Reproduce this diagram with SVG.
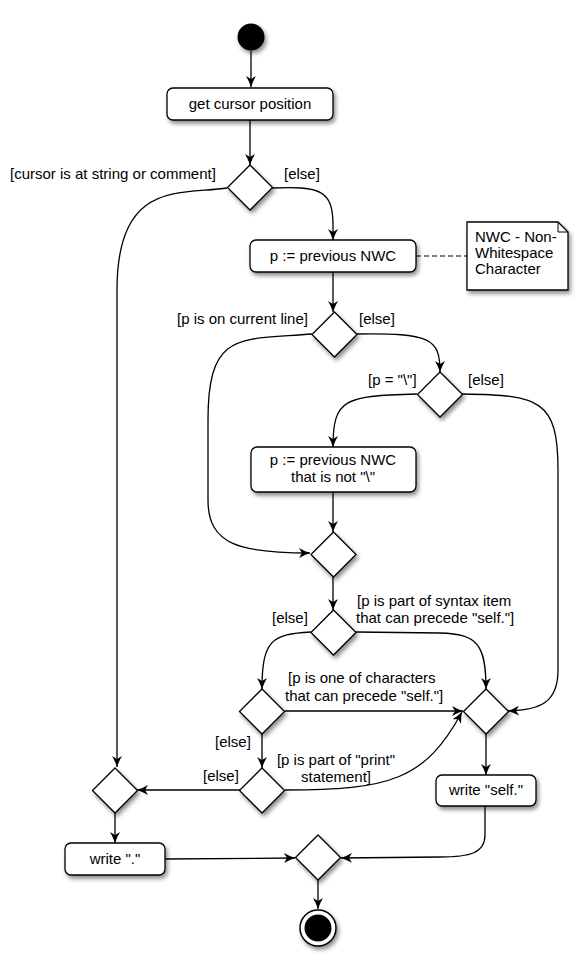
<svg xmlns="http://www.w3.org/2000/svg" width="582" height="976" viewBox="0 0 582 976">
  <defs>
    <filter id="shadow" x="-30%" y="-30%" width="160%" height="160%">
      <feDropShadow dx="2" dy="3" stdDeviation="2" flood-color="#000" flood-opacity="0.45"/>
    </filter>
    <marker id="arrow" markerUnits="userSpaceOnUse" markerWidth="12" markerHeight="10" refX="11" refY="5" orient="auto">
      <path d="M0,0 Q5,3 11,5 Q5,7 0,10 L3,5 Z" fill="#000"/>
    </marker>
  </defs>
  <style>
    text { font-family: "Liberation Sans", Arial, sans-serif; font-size: 15px; fill: #000; }
    .c { text-anchor: middle; }
    .node { fill: #fff; stroke: #000; stroke-width: 1.3; filter: url(#shadow); }
    .edge { fill: none; stroke: #000; stroke-width: 1.3; marker-end: url(#arrow); }
    .dash { fill: none; stroke: #000; stroke-width: 1.2; stroke-dasharray: 5 3; }
  </style>
  <rect width="582" height="976" fill="#fff"/>

  <g id="connectors">
    <path class="edge" d="M251,51 L251,87"/>
    <path class="edge" d="M250,120 L250,165"/>
    <path class="edge" d="M227,188 C180,195 117,180 117,290 L117,767"/>
    <path class="edge" d="M272,188 C320,186 333,190 333,225 L333,240"/>
    <path class="dash" d="M416,256 L467,256"/>
    <path class="edge" d="M333,272 L333,312"/>
    <path class="edge" d="M312,334 C240,340 208,330 208,420 L208,500 C208,545 240,553 310,553"/>
    <path class="edge" d="M357,334 C430,333 440,338 440,372"/>
    <path class="edge" d="M417,394 C345,396 333,398 333,447"/>
    <path class="edge" d="M462,394 C540,395 558,400 558,470 L558,670 C558,703 540,710 508,711"/>
    <path class="edge" d="M333,492 L333,532"/>
    <path class="edge" d="M333,577 L333,610"/>
    <path class="edge" d="M356,632 L440,633 C478,634 486,645 486,689"/>
    <path class="edge" d="M311,632 C272,634 262,640 262,689"/>
    <path class="edge" d="M285,711 L463,711"/>
    <path class="edge" d="M262,733 L262,768"/>
    <path class="edge" d="M240,790 L137,790"/>
    <path class="edge" d="M285,790 C390,790 425,780 462,712"/>
    <path class="edge" d="M486,733 L486,775"/>
    <path class="edge" d="M485,806 L485,835 C485,853 470,857 440,857 L341,858"/>
    <path class="edge" d="M115,812 L115,843"/>
    <path class="edge" d="M165,859 L295,858"/>
    <path class="edge" d="M318,880 L318,909"/>
  </g>

  <g id="start"><circle cx="251" cy="37" r="13.5" fill="#000" filter="url(#shadow)"/></g>

  <g id="get-cursor">
    <rect class="node" x="167" y="88" width="166" height="32" rx="6"/>
    <text class="c" x="250" y="109">get cursor position</text>
  </g>

  <g id="d-string">
    <path class="node" d="M250,165 L272.5,187.5 L250,210 L227.5,187.5 Z"/>
    <text x="10" y="179">[cursor is at string or comment]</text>
    <text x="284" y="179">[else]</text>
  </g>

  <g id="prev-nwc">
    <rect class="node" x="250" y="240" width="166" height="32" rx="6"/>
    <text class="c" x="333" y="261">p := previous NWC</text>
  </g>

  <g id="note">
    <path class="node" d="M467,222 L558,222 L568,232 L568,290 L467,290 Z"/>
    <path d="M558,222 L558,232 L568,232" fill="none" stroke="#000" stroke-width="1"/>
    <text x="475" y="242">NWC - Non-</text>
    <text x="475" y="258">Whitespace</text>
    <text x="475" y="274">Character</text>
  </g>

  <g id="d-line">
    <path class="node" d="M334.5,312 L357,334.5 L334.5,357 L312,334.5 Z"/>
    <text x="177" y="324">[p is on current line]</text>
    <text x="359" y="324">[else]</text>
  </g>

  <g id="d-backslash">
    <path class="node" d="M440,372 L462.5,394.5 L440,417 L417.5,394.5 Z"/>
    <text x="368" y="385">[p = "\"]</text>
    <text x="468" y="385">[else]</text>
  </g>

  <g id="prev-nwc-2">
    <rect class="node" x="251" y="447" width="165" height="45" rx="6"/>
    <text class="c" x="333" y="465">p := previous NWC</text>
    <text class="c" x="333" y="482">that is not "\"</text>
  </g>

  <g id="merge-1">
    <path class="node" d="M333.5,532 L356,554.5 L333.5,577 L311,554.5 Z"/>
  </g>

  <g id="d-syntax">
    <path class="node" d="M333.5,610 L356,632.5 L333.5,655 L311,632.5 Z"/>
    <text x="357" y="606">[p is part of syntax item</text>
    <text x="356" y="623">that can precede "self."]</text>
    <text x="272" y="623">[else]</text>
  </g>

  <g id="d-chars">
    <path class="node" d="M262,689 L284.5,711.5 L262,734 L239.5,711.5 Z"/>
    <text x="288" y="683">[p is one of characters</text>
    <text x="285" y="701">that can precede "self."]</text>
  </g>

  <g id="merge-self">
    <path class="node" d="M486,689 L508.5,711.5 L486,734 L463.5,711.5 Z"/>
  </g>

  <g id="d-print">
    <path class="node" d="M262,768 L284.5,790.5 L262,813 L239.5,790.5 Z"/>
    <text x="215" y="747">[else]</text>
    <text class="c" x="336" y="765">[p is part of "print"</text>
    <text class="c" x="336" y="782">statement]</text>
    <text x="203" y="781">[else]</text>
  </g>

  <g id="merge-dot">
    <path class="node" d="M115,768 L137.5,790.5 L115,813 L92.5,790.5 Z"/>
  </g>

  <g id="write-self">
    <rect class="node" x="436" y="775" width="100" height="31" rx="6"/>
    <text class="c" x="486" y="795">write "self."</text>
  </g>

  <g id="write-dot">
    <rect class="node" x="65" y="843" width="100" height="32" rx="6"/>
    <text class="c" x="115" y="864">write "."</text>
  </g>

  <g id="merge-end">
    <path class="node" d="M318,835 L340.5,857.5 L318,880 L295.5,857.5 Z"/>
  </g>

  <g id="end">
    <circle cx="318" cy="928" r="18" fill="#fff" stroke="#000" stroke-width="1.5" filter="url(#shadow)"/>
    <circle cx="318" cy="928" r="13.5" fill="#000"/>
  </g>
</svg>
